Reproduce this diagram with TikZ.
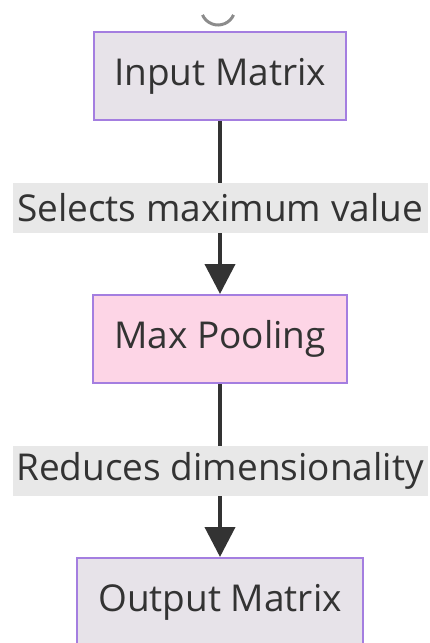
\documentclass[tikz,border=0pt]{standalone}
\usepackage{fontspec}
\setmainfont{Open Sans}
\usetikzlibrary{positioning, arrows.meta}
\definecolor{boxgray}{HTML}{E7E3E9}
\definecolor{boxpink}{HTML}{FDD5E6}
\definecolor{edgepurple}{HTML}{A47EE0}
\definecolor{labgray}{HTML}{E8E8E8}
\definecolor{ink}{HTML}{333333}
\tikzset{
  arr/.style={-{Triangle[length=30pt,width=30pt]}, line width=4pt, draw=ink},
  blk/.style={draw=edgepurple, line width=2pt, fill=boxgray, text=ink,
    minimum height=88pt, inner sep=0pt},
  lab/.style={fill=labgray, text=ink, minimum width=415pt, minimum height=50pt, inner sep=0pt}
}

\begin{document}
\begin{tikzpicture}[font=\fontsize{37}{44}\selectfont, node distance=173pt]
\useasboundingbox (0pt,0pt) rectangle (429pt,-643pt);
\draw[line width=3pt, draw=black!45] (218pt,-8pt) ++(204:17pt) arc[start angle=204, end angle=336, radius=17pt];
\node[blk, minimum width=252pt] (inmat) at (220pt,-76pt) {Input Matrix};
\node[blk, fill=boxpink, minimum width=254pt, below=of inmat] (pool) {Max Pooling};
\node[blk, minimum width=286pt, below=of pool] (outmat) {Output Matrix};
\draw[arr] (inmat) -- (pool)
  node[lab, midway] {Selects maximum value};
\draw[arr] (pool) -- (outmat)
  node[lab, midway] {Reduces dimensionality};
\end{tikzpicture}
\end{document}
